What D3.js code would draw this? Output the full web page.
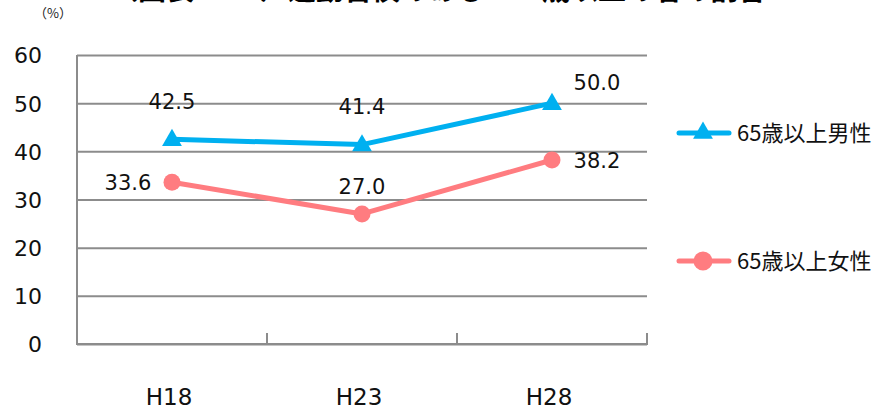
<!DOCTYPE html>
<html><head><meta charset="utf-8">
<script src="https://cdn.jsdelivr.net/npm/d3@7"></script>
<style>body{margin:0;background:#fff}svg{display:block}</style>
</head><body>
<svg id="c" width="877" height="412"></svg>
<script>
const categories = ["H18", "H23", "H28"];
const maleValues = [42.5, 41.4, 50.0];
const femaleValues = [33.6, 27.0, 38.2];
const seriesNames = ["65歳以上男性", "65歳以上女性"];
const yTicks = [0, 10, 20, 30, 40, 50, 60];
const titleParts = ["（図表", "）運動習慣のある", "歳以上の者の割合"];

(function () {
const svg = d3.select("#c");
const pLeft = 77, pRight = 647, pTop = 55, pBottom = 344;
const x = d3.scaleBand().domain(categories).range([pLeft, pRight]);
const y = d3.scaleLinear().domain([0, 60]).range([pBottom, pTop]);
const cx = d => x(d) + x.bandwidth() / 2;
const gridCol = "#8c8c8c";
const numFont = "'DejaVu Sans', Verdana, sans-serif";
const jpFont = "'Noto Sans CJK JP', sans-serif";

// clipped title
const titleX = [110, 260, 542];
svg.selectAll("text.title").data(titleParts).enter().append("text")
  .attr("class", "title").attr("x", (d, i) => titleX[i]).attr("y", 0)
  .attr("font-family", jpFont).attr("font-weight", "bold").attr("font-size", 28)
  .attr("fill", "#000").text(d => d);

svg.append("text").attr("x", 34).attr("y", 18).attr("font-family", jpFont)
  .attr("font-size", 13).attr("fill", "#222").text("（%）");

// gridlines
const yAxis = d3.axisLeft(y).tickValues(yTicks).tickSize(-(pRight - pLeft)).tickFormat(d => d);
const gy = svg.append("g").attr("transform", `translate(${pLeft},0)`).call(yAxis);
gy.select(".domain").remove();
gy.selectAll(".tick line").attr("stroke", gridCol).attr("stroke-width", 2);
gy.selectAll(".tick text").attr("x", -35).attr("dy", "0.36em").attr("font-family", numFont)
  .attr("font-size", 22).attr("fill", "#111");

// axes lines
svg.append("line").attr("x1", pLeft).attr("x2", pLeft).attr("y1", pTop).attr("y2", pBottom + 1)
  .attr("stroke", gridCol).attr("stroke-width", 2);
svg.append("line").attr("x1", pLeft - 1).attr("x2", pRight + 1).attr("y1", pBottom).attr("y2", pBottom)
  .attr("stroke", gridCol).attr("stroke-width", 2);
const bounds = categories.map(c => x(c)).concat([pRight]).slice(1);
svg.selectAll("line.xt").data(bounds).enter().append("line").attr("class", "xt")
  .attr("x1", d => d).attr("x2", d => d).attr("y1", pBottom).attr("y2", pBottom - 11)
  .attr("stroke", gridCol).attr("stroke-width", 2);
svg.selectAll("text.xl").data(categories).enter().append("text").attr("class", "xl")
  .attr("x", d => cx(d) - 3).attr("y", 405).attr("text-anchor", "middle")
  .attr("font-family", numFont).attr("font-size", 23).attr("fill", "#111").text(d => d);

const blue = "#00B0F0", pink = "#FF7C80";
const line = d3.line().x((d, i) => cx(categories[i])).y(d => y(d));
svg.append("path").datum(maleValues).attr("d", line).attr("fill", "none")
  .attr("stroke", blue).attr("stroke-width", 5).attr("stroke-linejoin", "round");
svg.append("path").datum(femaleValues).attr("d", line).attr("fill", "none")
  .attr("stroke", pink).attr("stroke-width", 5).attr("stroke-linejoin", "round");

const tri = d3.symbol().type(d3.symbolTriangle).size(170);
svg.selectAll("path.tm").data(maleValues).enter().append("path").attr("class", "tm")
  .attr("d", tri).attr("fill", blue)
  .attr("transform", (d, i) => `translate(${cx(categories[i])},${y(d) + 1})`);
svg.selectAll("circle.fm").data(femaleValues).enter().append("circle").attr("class", "fm")
  .attr("cx", (d, i) => cx(categories[i])).attr("cy", d => y(d)).attr("r", 8.5).attr("fill", pink);

// data labels
const maleOff = [[0, -30], [0, -31], [45, -13]];
const femaleOff = [[-44, 8], [0, -20], [45, 8]];
function labels(vals, offs, cls) {
  svg.selectAll("text." + cls).data(vals).enter().append("text").attr("class", cls)
    .attr("x", (d, i) => cx(categories[i]) + offs[i][0])
    .attr("y", (d, i) => y(d) + offs[i][1])
    .attr("text-anchor", "middle").attr("font-family", numFont).attr("font-size", 21)
    .attr("fill", "#111").text(d => d.toFixed(1));
}
labels(maleValues, maleOff, "ml");
labels(femaleValues, femaleOff, "fl");

// legend
const legY = [133, 261];
const lg = svg.selectAll("g.lg").data(seriesNames).enter().append("g").attr("class", "lg")
  .attr("transform", (d, i) => `translate(0,${legY[i]})`);
lg.append("line").attr("x1", 679).attr("x2", 729).attr("y1", 0).attr("y2", 0)
  .attr("stroke", (d, i) => i ? pink : blue).attr("stroke-width", 5).attr("stroke-linecap", "round");
lg.filter((d, i) => i === 0).append("path").attr("d", tri).attr("fill", blue).attr("transform", "translate(703,0)");
lg.filter((d, i) => i === 1).append("circle").attr("cx", 703).attr("cy", 0).attr("r", 9.5).attr("fill", pink);
lg.append("text").attr("x", 737).attr("y", 0).attr("dy", "0.36em").attr("font-family", jpFont)
  .attr("font-size", 22).attr("fill", "#111").text(d => d);
})();
</script>
</body></html>
